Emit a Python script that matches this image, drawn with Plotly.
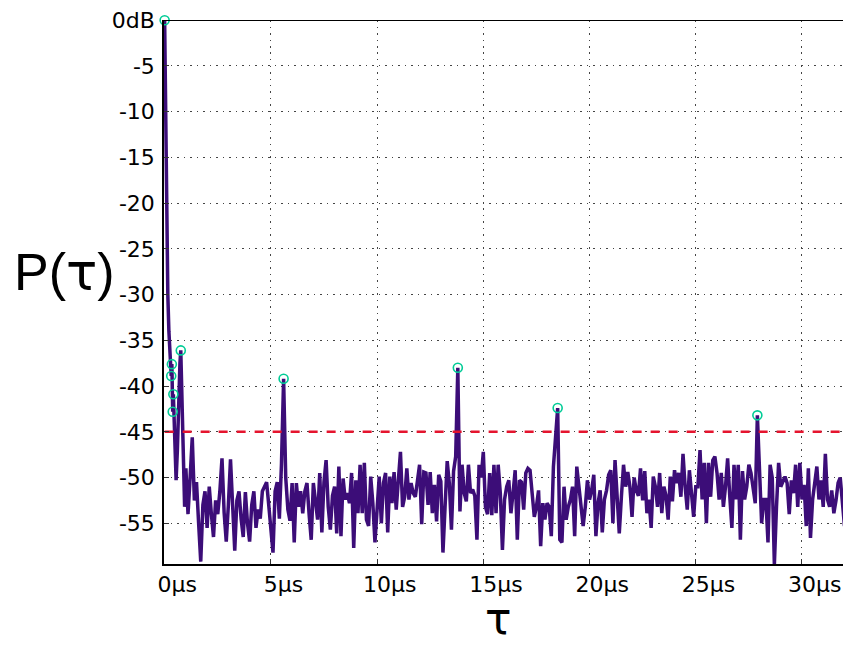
import numpy as np
import plotly.graph_objects as go

# ---- data ----
tau_head = [0, 0.05, 0.1, 0.15, 0.2, 0.25, 0.31, 0.34, 0.38, 0.41, 0.46, 0.50,
            0.54, 0.60, 0.66, 0.72, 0.76, 0.82, 0.88, 0.94]
p_head = [0, -12, -22, -30, -34, -36.5, -38.9, -37.6, -42.8, -40.9, -45.5, -48.5,
          -50.3, -47.0, -41.0, -37.5, -36.1, -43.0, -50.5, -53.2]

body_start = 1.0
body_step = 0.1
p_body = [
    -49.0, -54.0, -50.0, -45.6, -52.5, -50.5, -55.0, -59.2, -53.0, -51.5,
    -55.5, -51.0, -54.0, -56.5, -52.5, -54.0, -51.5, -47.9, -53.8, -57.0,
    -53.0, -48.0, -53.0, -58.0, -52.5, -51.5, -54.5, -56.5, -51.6, -55.0,
    -57.0, -53.0, -51.5, -55.5, -53.5, -54.5, -51.5, -51.0, -50.5, -53.0,
    -55.5, -58.2, -51.5, -50.5, -54.5, -48.5, -39.2, -50.0, -53.5, -54.7,
    -50.6, -57.1, -50.6, -53.2, -51.5, -53.9, -51.5, -50.6, -54.0, -56.8,
    -50.6, -53.0, -54.6, -49.5, -56.0, -50.5, -48.1, -53.2, -55.7, -52.0,
    -51.0, -56.1, -48.8, -56.4, -50.1, -52.4, -51.7, -52.8, -49.5, -57.7,
    -50.3, -53.9, -48.6, -53.9, -48.4, -54.6, -55.3, -49.9, -52.8, -57.1,
    -53.9, -49.9, -55.0, -50.6, -49.5, -56.0, -49.9, -52.8, -49.4, -53.5,
    -50.3, -47.2, -53.2, -52.1, -49.0, -52.4, -50.6, -51.7, -52.1, -50.0,
    -48.6, -55.1, -49.4, -49.5, -53.0, -49.4, -53.9, -50.8, -54.8, -49.7,
    -50.4, -58.2, -52.0, -48.2, -50.6, -55.7, -49.3, -47.7, -38.0, -53.7,
    -48.6, -51.7, -52.6, -48.6, -51.7, -51.3, -52.0, -56.8, -48.6, -50.0,
    -47.2, -53.2, -54.0, -49.5, -54.1, -48.6, -53.9, -48.6, -51.7, -57.9,
    -52.4, -51.0, -50.3, -53.9, -51.7, -49.2, -56.8, -50.3, -50.5, -53.5,
    -49.5, -49.0, -49.2, -51.4, -54.3, -53.2, -51.4, -57.5, -52.8, -54.6,
    -52.8, -53.2, -56.4, -48.8, -45.9, -42.4, -56.8, -57.1, -51.0, -54.6,
    -53.2, -52.4, -51.0, -56.4, -48.8, -51.0, -53.5, -55.3, -53.2, -50.3,
    -52.4, -51.4, -49.7, -56.4, -52.8, -51.4, -56.0, -52.4, -51.4, -49.7,
    -49.2, -55.0, -48.1, -52.1, -56.1, -52.1, -48.6, -51.0, -49.4, -51.0,
    -54.3, -50.0, -51.4, -52.0, -49.0, -52.5, -49.3, -53.9, -52.4, -55.5,
    -49.9, -51.0, -53.2, -49.5, -53.9, -51.0, -52.0, -54.6, -49.9, -52.6,
    -49.2, -50.6, -49.5, -52.1, -47.4, -51.0, -53.5, -49.2, -51.7, -54.3,
    -51.0, -51.0, -47.0, -52.4, -48.4, -55.0, -48.4, -52.1, -48.1, -47.7,
    -49.5, -52.4, -49.5, -53.2, -51.0, -47.9, -52.0, -55.5, -48.6, -52.4,
    -48.6, -56.8, -49.3, -52.4, -51.0, -48.6, -49.5, -51.0, -52.8, -43.2,
    -49.5, -55.0, -52.4, -52.4, -57.1, -48.6, -50.0, -59.5, -53.2, -48.4,
    -51.0, -50.3, -49.9, -50.6, -54.0, -50.3, -51.7, -48.6, -53.2, -48.4,
    -52.4, -50.8, -55.3, -49.0, -56.6, -52.4, -50.6, -48.8, -52.4, -50.3,
    -53.2, -47.4, -52.4, -53.2, -51.4, -53.9, -52.5, -50.6, -50.0, -52.4,
    -55.3, -50.3, -51.7, -51.0,
]

peak_tau = [0, 0.31, 0.34, 0.38, 0.41, 0.76, 5.6, 13.8, 18.5, 27.9]
threshold_db = -45

x_ticks = [0, 5, 10, 15, 20, 25, 30]
y_ticks = [0, -5, -10, -15, -20, -25, -30, -35, -40, -45, -50, -55]
y_ticktext = ["0dB"] + [str(v) for v in y_ticks[1:]]
x_range = [-0.03, 32.26]
y_range = [-59.45, 0.02]

# ---- assemble ----
tau_body = np.round(body_start + body_step * np.arange(len(p_body)), 2)
tau = np.concatenate([np.array(tau_head, float), tau_body])
p = np.concatenate([np.array(p_head, float), np.array(p_body, float)])
peak_p = [float(p[np.argmin(np.abs(tau - t))]) for t in peak_tau]

# left padding so the number (not the unit) is centred on the tick
pad = "\u00a0" * 3 + "\u2009"
x_ticktext = [pad + f"{v}\u03bcs" for v in x_ticks]

fig = go.Figure()
fig.add_trace(go.Scatter(x=tau, y=p, mode="lines",
                         line=dict(color="#3c0d78", width=3.5), hoverinfo="skip"))
fig.add_trace(go.Scatter(x=[0, x_range[1]], y=[threshold_db, threshold_db], mode="lines",
                         line=dict(color="#e5142e", width=2.5, dash="9px,9px")))
fig.add_trace(go.Scatter(x=peak_tau, y=peak_p, mode="markers", cliponaxis=False,
                         marker=dict(symbol="circle-open", size=9,
                                     line=dict(color="#1ea83c", width=1.6))))

tick_font = dict(family="DejaVu Sans, sans-serif", size=22, color="black")
axis_common = dict(ticks="inside", ticklen=5, tickwidth=1, tickcolor="#333",
                   showgrid=True, gridcolor="#444", gridwidth=1, griddash="1.5px,5px",
                   showline=True, linecolor="black", zeroline=False, automargin=False,
                   ticklabeloverflow="allow", tickfont=tick_font)

# the page body has an 8px margin: the figure is sized/margined so the
# plot area lands at x 164..850, y 20..564 of the 851x646 window
fig.update_layout(
    width=843, height=638,
    margin=dict(l=156, r=1, t=12, b=82, autoexpand=False),
    paper_bgcolor="white", plot_bgcolor="white",
    showlegend=False,
    font=dict(family="DejaVu Sans, sans-serif", size=22, color="black"),
    xaxis=dict(range=x_range, tickmode="array", tickvals=x_ticks, ticktext=x_ticktext,
               linewidth=2, ticklabelstandoff=0, **axis_common),
    yaxis=dict(range=y_range, tickmode="array", tickvals=y_ticks, ticktext=y_ticktext,
               linewidth=1.5, ticklabelstandoff=3, **axis_common),
    shapes=[dict(type="line", xref="paper", yref="y", x0=0, x1=1, y0=0, y1=0,
                 line=dict(color="black", width=1.5))],
    annotations=[
        dict(text="P(<span style=\"font-family:'DejaVu Sans'\">\u03c4</span>)",
             xref="paper", yref="paper", x=-0.2216, y=0.537,
             xanchor="left", yanchor="middle", showarrow=False,
             font=dict(family="Liberation Sans, Arial, sans-serif", size=52, color="black")),
        dict(text="\u03c4", xref="paper", yref="paper", x=0.487, y=-0.1505,
             xanchor="center", yanchor="bottom", showarrow=False,
             font=dict(family="DejaVu Sans, sans-serif", size=44, color="black")),
    ],
)

fig.write_html("out.html")
